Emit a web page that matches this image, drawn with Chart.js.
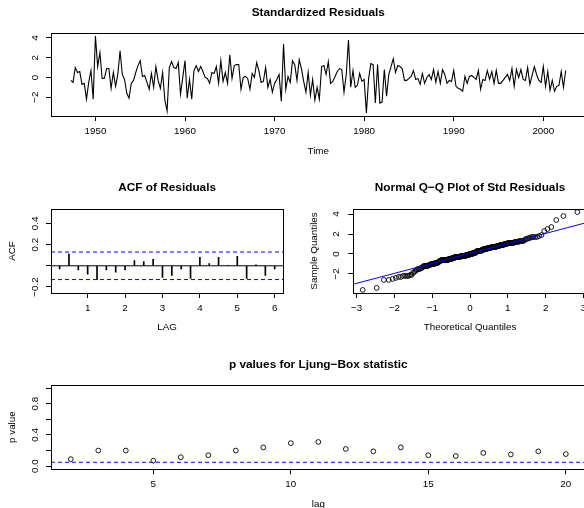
<!DOCTYPE html>
<html><head><meta charset="utf-8">
<script src="https://cdn.jsdelivr.net/npm/chart.js@4.4.1/dist/chart.umd.min.js"></script>
<style>
html,body{margin:0;padding:0;background:#fff;width:584px;height:508px;overflow:hidden;position:relative}
canvas{position:absolute}
</style></head><body>
<canvas id="c1" width="600" height="157" style="left:0;top:0"></canvas>
<canvas id="c2" width="300" height="163" style="left:0;top:170px"></canvas>
<canvas id="c3" width="310" height="163" style="left:290px;top:170px"></canvas>
<canvas id="c4" width="600" height="170" style="left:0;top:340px"></canvas>
<script>
// ---------------- data ----------------
const RESID_START = 1947.25;   // first quarter of the residual series
const RESID_FREQ = 4;          // quarterly
const residuals = [
  -0.3, -0.5, 1.0,
  0.5, 0.6, -0.7, -0.6,
  -2.2, -0.5, 0.7, -2.2,
  4.2, 1.1, 2.5, -0.1,
  -0.1, 0.9, 0.9, -1.1,
  0.5, -0.9, 0.3, 2.7,
  0.3, -0.2, -1.6, -2.1,
  -0.6, -0.3, 0.5, 1.2,
  1.7, 0.1, 0.2, -0.5,
  -1.2, 0.4, -1.0, 1.1,
  -0.3, -1.1, 0.5, -2.3,
  -3.4, 1.0, 1.6, 1.0,
  0.9, 1.5, -1.7, 0.0,
  1.7, -2.1, -0.2, -2.2,
  0.7, 1.2, 0.6, 1.1,
  0.6, 0.0, -0.1, -0.6,
  0.5, 0.4, 1.1, -0.6,
  1.7, -0.4, 0.5, -0.6,
  2.3, -0.1, 1.2, 1.3,
  1.3, -1.2, 0.0, 0.1,
  -0.1, -1.2, 0.4, 0.0,
  1.5, 0.7, -0.5, -0.4,
  1.0, -1.0, -0.2, -1.5,
  -0.6, -0.2, 0.3, -2.4,
  3.4, -1.2, 0.1, -0.5,
  1.7, 1.3, -0.3, 1.8,
  0.9, -0.4, -1.5, 0.5,
  -1.8, -0.2, -2.3, -1.0,
  -2.2, 1.1, 1.2, 0.3,
  1.6, -0.6, -0.4, 0.1,
  0.6, 0.9, 0.8, -1.5,
  0.3, 3.8, -1.0, 0.7,
  -1.0, -0.8, 0.4, -0.4,
  -0.2, -3.6, -0.1, 1.4,
  1.3, -2.6, 1.3, -2.6,
  -2.5, 0.8, -1.9, 0.3,
  1.1, 1.9, 0.5, 1.2,
  1.1, 0.9, -0.3, -0.3,
  -0.1, 0.1, 0.7, -0.2,
  -0.1, -0.7, 0.4, -0.6,
  0.0, 0.3, -0.2, 0.8,
  -0.5, 0.6, -0.6, 0.8,
  0.3, -0.6, -0.3, -0.4,
  0.7, -0.9, -1.1, -1.2,
  -1.4, 0.1, -0.6, 0.1,
  0.2, 0.0, -0.2, 0.7,
  -1.2, -0.2, -0.3, 0.7,
  -0.2, 0.6, -0.6, 0.7,
  -0.6, -0.6, -0.3, 0.0,
  0.3, -0.3, 0.9, -0.9,
  0.8, 0.0, 0.8, -0.2,
  -0.3, 1.0, -0.7, 0.2,
  1.1, 0.3, -0.3, -0.5,
  1.1, -0.9, 0.6, -1.3,
  -0.3, -1.4, -0.9, -0.8,
  0.6, -1.0, 0.7
];
const timeTicks = [1950, 1960, 1970, 1980, 1990, 2000];
const residTicks = [-2, 0, 2, 4];

const acfValues = [-0.03, 0.11, -0.04, -0.08, -0.13, -0.04, -0.06, -0.04, 0.05, 0.04, 0.06, -0.11,
                   -0.09, -0.03, -0.12, 0.08, 0.02, 0.08, 0.005, 0.09, -0.12, 0.01, -0.09, -0.03];
const acfBound = 0.13;
const acfXTicks = [1, 2, 3, 4, 5, 6];
const acfYTicks = [-0.2, 0, 0.2, 0.4];
const acfYLabelled = [-0.2, 0.2, 0.4];

const qqLineIntercept = 0.06;
const qqLineSlope = 1.0;
const qqXTicks = [-3, -2, -1, 0, 1, 2, 3];
const qqYTicks = [-2, 0, 2, 4];

const lbLags = [2, 3, 4, 5, 6, 7, 8, 9, 10, 11, 12, 13, 14, 15, 16, 17, 18, 19, 20];
const lbPValues = [0.09, 0.20, 0.20, 0.07, 0.115, 0.14, 0.20, 0.24, 0.295, 0.31, 0.22, 0.19, 0.24, 0.14, 0.13, 0.17, 0.15, 0.19, 0.155];
const lbLevel = 0.05;
const lbXTicks = [5, 10, 15, 20];
const lbYTicks = [0, 0.2, 0.4, 0.6, 0.8, 1.0];
const lbYLabelled = [0, 0.4, 0.8];

// ---------------- helpers ----------------
const FONT = "'Liberation Sans', Arial, Helvetica, sans-serif";
const TICK_SIZE = 9.8, TITLE_SIZE = 11.8;
const MINUS = '\u2212';
const BLUE = 'rgb(0,0,255)';
Chart.defaults.font.family = FONT;
Chart.defaults.color = '#000';

function fmt(v, dec) {
  const s = Math.abs(v).toFixed(dec);
  return (v < -1e-9 ? MINUS : '') + s;
}
function qnorm(p) {
  const a=[-3.969683028665376e+01,2.209460984245205e+02,-2.759285104469687e+02,1.383577518672690e+02,-3.066479806614716e+01,2.506628277459239e+00];
  const b=[-5.447609879822406e+01,1.615858368580409e+02,-1.556989798598866e+02,6.680131188771972e+01,-1.328068155288572e+01];
  const c=[-7.784894002430293e-03,-3.223964580411365e-01,-2.400758277161838e+00,-2.549732539343734e+00,4.374664141464968e+00,2.938163982698783e+00];
  const d=[7.784695709041462e-03,3.224671290700398e-01,2.445134137142996e+00,3.754408661907416e+00];
  const pl=0.02425, ph=1-pl; let q, r;
  if (p < pl) { q=Math.sqrt(-2*Math.log(p)); return (((((c[0]*q+c[1])*q+c[2])*q+c[3])*q+c[4])*q+c[5])/((((d[0]*q+d[1])*q+d[2])*q+d[3])*q+1); }
  if (p <= ph) { q=p-0.5; r=q*q; return (((((a[0]*r+a[1])*r+a[2])*r+a[3])*r+a[4])*r+a[5])*q/(((((b[0]*r+b[1])*r+b[2])*r+b[3])*r+b[4])*r+1); }
  q=Math.sqrt(-2*Math.log(1-p)); return -(((((c[0]*q+c[1])*q+c[2])*q+c[3])*q+c[4])*q+c[5])/((((d[0]*q+d[1])*q+d[2])*q+d[3])*q+1);
}

const boxPlugin = {
  id: 'rbox',
  afterDraw(chart) {
    const a = chart.chartArea, ctx = chart.ctx;
    ctx.save();
    ctx.strokeStyle = '#000'; ctx.lineWidth = 1;
    const l = Math.round(a.left) + 0.5, t = Math.round(a.top) + 0.5;
    const r = Math.round(a.right) + 0.5, b = Math.round(a.bottom) + 0.5;
    ctx.strokeRect(l, t, r - l, b - t);
    ctx.restore();
  }
};

function xAxis(o) {
  return {
    type: 'linear', position: 'bottom', min: o.min, max: o.max, offset: false,
    afterBuildTicks: s => { s.ticks = o.ticks.map(v => ({ value: v })); },
    afterFit: s => { s.height = o.height; },
    ticks: { autoSkip: false, maxRotation: 0, minRotation: 0, padding: o.pad, color: '#000',
             font: { family: FONT, size: TICK_SIZE }, callback: v => o.fmt(v) },
    grid: { offset: false, drawOnChartArea: false, drawTicks: true, tickLength: 5, color: '#000', tickColor: '#000', lineWidth: 1 },
    border: { display: false },
    title: { display: true, text: o.title, color: '#000', font: { family: FONT, size: TICK_SIZE }, padding: 0 }
  };
}
function yAxis(o) {
  return {
    type: 'linear', position: 'left', min: o.min, max: o.max,
    afterBuildTicks: s => { s.ticks = o.ticks.map(v => ({ value: v })); },
    afterFit: s => { s.width = o.width; },
    ticks: { autoSkip: false, minRotation: 90, maxRotation: 90, crossAlign: 'center', padding: o.pad, color: '#000',
             font: { family: FONT, size: TICK_SIZE }, callback: v => o.fmt(v) },
    grid: { drawOnChartArea: false, drawTicks: true, tickLength: 5, color: '#000', tickColor: '#000', lineWidth: 1 },
    border: { display: false },
    title: { display: !!o.title, text: o.title || '', color: '#000', font: { family: FONT, size: TICK_SIZE },
             padding: { top: o.titlePad || 0, bottom: 0 } }
  };
}
function baseOptions(title, tPadTop, tPadBottom, padRight, scales) {
  return {
    responsive: false, animation: false, devicePixelRatio: 1,
    layout: { padding: { left: 0, right: padRight, top: 0, bottom: 0 }, autoPadding: false },
    plugins: {
      legend: { display: false }, tooltip: { enabled: false },
      title: { display: true, text: title, fullSize: false, color: '#000',
               font: { family: FONT, size: TITLE_SIZE, weight: 'bold', lineHeight: 1.2 },
               padding: { top: tPadTop, bottom: tPadBottom } }
    },
    scales
  };
}
function hLine(x0, x1, y, color, dash, order) {
  return { type: 'line', data: [{ x: x0, y }, { x: x1, y }], borderColor: color, backgroundColor: color,
           borderWidth: 1, borderDash: dash, pointRadius: 0, fill: false, order };
}

// ---------------- 1: standardized residuals ----------------
const RES_YMIN = -3.91, RES_YMAX = 4.51;
new Chart(document.getElementById('c1'), {
  type: 'line',
  data: { datasets: [{
    data: residuals.map((v, i) => ({ x: RESID_START + i / RESID_FREQ, y: v })),
    borderColor: '#000', borderWidth: 1.1, pointRadius: 0, tension: 0, fill: false
  }] },
  options: baseOptions('Standardized Residuals', 5.2, 13.6, 14.5, {
    x: xAxis({ min: 1945.04, max: 2004.71, ticks: timeTicks, fmt: v => String(v), height: 41, pad: 4, title: 'Time' }),
    y: yAxis({ min: RES_YMIN, max: RES_YMAX, ticks: residTicks, fmt: v => fmt(v, 0), width: 51, pad: 5.4 })
  }),
  plugins: [boxPlugin]
});

// ---------------- 2: ACF ----------------
const ACF_XMIN = 0.02, ACF_XMAX = 6.23;
new Chart(document.getElementById('c2'), {
  type: 'bar',
  data: { datasets: [
    { type: 'bar', data: acfValues.map((v, i) => ({ x: (i + 1) / RESID_FREQ, y: v })),
      backgroundColor: '#000', borderWidth: 0, barThickness: 1, order: 3 },
    hLine(ACF_XMIN, ACF_XMAX, 0, '#000', [], 2),
    hLine(ACF_XMIN, ACF_XMAX, acfBound, BLUE, [4, 3], 1),
    hLine(ACF_XMIN, ACF_XMAX, -acfBound, BLUE, [4, 3], 0)
  ] },
  options: baseOptions('ACF of Residuals', 10.9, 13.9, 16.7, {
    x: xAxis({ min: ACF_XMIN, max: ACF_XMAX, ticks: acfXTicks, fmt: v => String(v), height: 40, pad: 4, title: 'LAG' }),
    y: yAxis({ min: -0.257, max: 0.537, ticks: acfYTicks,
               fmt: v => acfYLabelled.some(t => Math.abs(t - v) < 1e-9) ? fmt(v, 1) : '',
               width: 51, pad: 1.3, title: 'ACF', titlePad: 6.1 })
  }),
  plugins: [boxPlugin]
});

// ---------------- 3: Normal Q-Q ----------------
const QQ_XMIN = -3.09, QQ_XMAX = 3.09;
const sortedResid = residuals.slice().sort((a, b) => a - b);
const nRes = sortedResid.length;
new Chart(document.getElementById('c3'), {
  type: 'scatter',
  data: { datasets: [
    { type: 'scatter', data: sortedResid.map((v, i) => ({ x: qnorm((i + 1 - 0.5) / nRes), y: v })),
      pointRadius: 2.4, pointBorderWidth: 0.9, borderColor: '#000', backgroundColor: 'rgba(0,0,0,0)', pointStyle: 'circle', order: 1 },
    { type: 'line', data: [{ x: QQ_XMIN, y: qqLineIntercept + qqLineSlope * QQ_XMIN }, { x: QQ_XMAX, y: qqLineIntercept + qqLineSlope * QQ_XMAX }],
      borderColor: BLUE, borderWidth: 1, pointRadius: 0, order: 0 }
  ] },
  options: baseOptions('Normal Q\u2212Q Plot of Std Residuals', 10.9, 13.9, 13.2, {
    x: xAxis({ min: QQ_XMIN, max: QQ_XMAX, ticks: qqXTicks, fmt: v => fmt(v, 0), height: 40, pad: 4, title: 'Theoretical Quantiles' }),
    y: yAxis({ min: RES_YMIN, max: RES_YMAX, ticks: qqYTicks, fmt: v => fmt(v, 0), width: 63.3, pad: 6, title: 'Sample Quantiles', titlePad: 18.1 })
  }),
  plugins: [boxPlugin]
});

// ---------------- 4: Ljung-Box ----------------
const LB_XMIN = 1.28, LB_XMAX = 20.72;
new Chart(document.getElementById('c4'), {
  type: 'scatter',
  data: { datasets: [
    { type: 'scatter', data: lbLags.map((l, i) => ({ x: l, y: lbPValues[i] })),
      pointRadius: 2.4, pointBorderWidth: 0.9, borderColor: '#000', backgroundColor: 'rgba(0,0,0,0)', order: 1 },
    hLine(LB_XMIN, LB_XMAX, lbLevel, BLUE, [4, 3], 0)
  ] },
  options: baseOptions('p values for Ljung\u2212Box statistic', 17.2, 13.6, 14.4, {
    x: xAxis({ min: LB_XMIN, max: LB_XMAX, ticks: lbXTicks, fmt: v => String(v), height: 40.7, pad: 4, title: 'lag' }),
    y: yAxis({ min: -0.04, max: 1.04, ticks: lbYTicks,
               fmt: v => lbYLabelled.some(t => Math.abs(t - v) < 1e-9) ? fmt(v, 1) : '',
               width: 51, pad: 4.2, title: 'p value', titlePad: 6.1 })
  }),
  plugins: [boxPlugin]
});
</script>
</body></html>
